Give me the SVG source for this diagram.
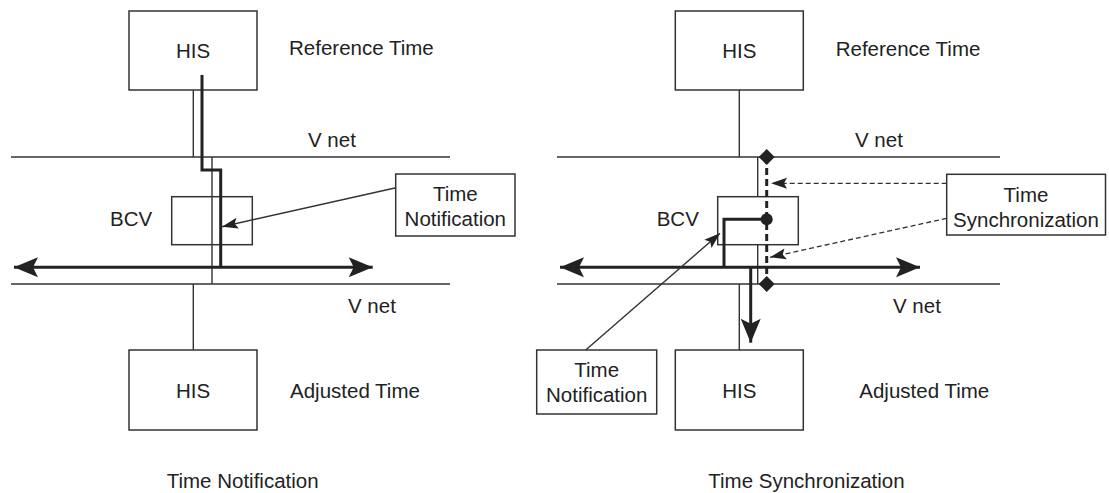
<svg xmlns="http://www.w3.org/2000/svg" width="1109" height="493" viewBox="0 0 1109 493">
<style>
text{font-family:"Liberation Sans",Arial,sans-serif;font-size:20.5px;fill:#222}
.box{fill:#fff;stroke:#333;stroke-width:1.5}
.open{fill:none;stroke:#333;stroke-width:1.5}
.thin{stroke:#333;stroke-width:1.4;fill:none}
.thick{stroke:#222;stroke-width:3;fill:none}
.dash{stroke:#333;stroke-width:1.3;fill:none;stroke-dasharray:5 3}
.thickdash{stroke:#222;stroke-width:3;fill:none;stroke-dasharray:7 4}
.mid{text-anchor:middle}
</style>
<defs>
<marker id="big" markerUnits="userSpaceOnUse" markerWidth="30" markerHeight="24" refX="24" refY="12" orient="auto-start-reverse" overflow="visible">
<path d="M0,2 L24,12 L0,22 L5,12 Z" fill="#222"/>
</marker>
<marker id="small" markerUnits="userSpaceOnUse" markerWidth="18" markerHeight="12" refX="16" refY="6" orient="auto" overflow="visible">
<path d="M0,0.5 L16,6 L0,11.5 L3,6 Z" fill="#222"/>
</marker>
<marker id="dia" markerUnits="userSpaceOnUse" markerWidth="16" markerHeight="16" refX="8" refY="8" orient="0" overflow="visible">
<path d="M8,0 L16,8 L8,16 L0,8 Z" fill="#222"/>
</marker>
</defs>

<!-- Left nodes (boxes under connectors) -->
<g id="his-ref-left">
<rect class="box" x="129" y="11" width="128" height="79"/>
<text class="mid" x="193" y="58">HIS</text>
</g>
<g id="bcv-left">
<rect class="open" x="171.7" y="196.7" width="80.6" height="48"/>
<text x="110" y="226">BCV</text>
</g>
<g id="his-adj-left">
<rect class="box" x="129" y="350" width="128" height="80"/>
<text class="mid" x="193" y="398">HIS</text>
</g>
<g id="tn-left">
<rect class="box" x="395.7" y="174" width="119.3" height="62"/>
<text class="mid" x="455.3" y="200.5">Time</text>
<text class="mid" x="455.3" y="225.5">Notification</text>
</g>
<g id="labels-left">
<text x="289" y="55">Reference Time</text>
<text x="308" y="147">V net</text>
<text x="348" y="313">V net</text>
<text x="290" y="398">Adjusted Time</text>
<text x="166.7" y="488">Time Notification</text>
</g>

<!-- Right nodes -->
<g id="his-ref-right">
<rect class="box" x="675.3" y="11" width="128" height="79"/>
<text class="mid" x="739.3" y="58">HIS</text>
</g>
<g id="bcv-right">
<rect class="open" x="717.7" y="196.7" width="80.6" height="48"/>
<text x="656.7" y="226">BCV</text>
</g>
<g id="his-adj-right">
<rect class="box" x="675.3" y="350" width="128" height="80"/>
<text class="mid" x="739.3" y="398">HIS</text>
</g>
<g id="tn-right">
<rect class="box" x="536.7" y="350" width="120" height="64"/>
<text class="mid" x="596.7" y="376.7">Time</text>
<text class="mid" x="596.7" y="402">Notification</text>
</g>
<g id="ts-right">
<rect class="box" x="946.7" y="174.3" width="158.8" height="60.7"/>
<text class="mid" x="1026" y="201.7">Time</text>
<text class="mid" x="1026" y="226.7">Synchronization</text>
</g>
<g id="labels-right">
<text x="835.7" y="56">Reference Time</text>
<text x="855" y="147">V net</text>
<text x="893" y="313">V net</text>
<text x="859.3" y="398">Adjusted Time</text>
<text x="708.3" y="488">Time Synchronization</text>
</g>

<g id="connectors">
<!-- Left diagram -->
<line class="thin" x1="11" y1="157" x2="450" y2="157"/>
<line class="thin" x1="11" y1="284" x2="450" y2="284"/>
<line class="thin" x1="193.3" y1="90" x2="193.3" y2="157"/>
<line class="thin" x1="212" y1="157" x2="212" y2="284"/>
<line class="thin" x1="193.3" y1="284" x2="193.3" y2="350"/>
<line class="thick" x1="14" y1="267.3" x2="372.7" y2="267.3" marker-start="url(#big)" marker-end="url(#big)"/>
<path class="thick" d="M202,75 V170 H220.7 V267.3"/>
<line class="thin" x1="396" y1="187.7" x2="222" y2="226.7" marker-end="url(#small)"/>

<!-- Right diagram -->
<line class="thin" x1="557" y1="157" x2="1000" y2="157"/>
<line class="thin" x1="557" y1="284" x2="1000" y2="284"/>
<line class="thin" x1="739.3" y1="90" x2="739.3" y2="157"/>
<line class="thin" x1="757.7" y1="157" x2="757.7" y2="196.7"/>
<line class="thin" x1="757.7" y1="244.7" x2="757.7" y2="284"/>
<line class="thin" x1="739.3" y1="284" x2="739.3" y2="350"/>
<line class="thick" x1="560" y1="267.3" x2="920" y2="267.3" marker-start="url(#big)" marker-end="url(#big)"/>
<line class="thickdash" x1="766.7" y1="157" x2="766.7" y2="284" marker-start="url(#dia)" marker-end="url(#dia)"/>
<path class="thick" d="M724,267.3 V219.3 H766.7"/>
<circle cx="766.7" cy="219.3" r="6" fill="#222"/>
<line class="thick" x1="750.7" y1="267.3" x2="750.7" y2="342.7" marker-end="url(#big)"/>
<line class="thin" x1="585.7" y1="350" x2="720" y2="233.3" marker-end="url(#small)"/>
<line class="dash" x1="946.7" y1="183.3" x2="771" y2="183.3" marker-end="url(#small)"/>
<line class="dash" x1="946.7" y1="218.3" x2="770" y2="257.3" marker-end="url(#small)"/>
</g>
</svg>
